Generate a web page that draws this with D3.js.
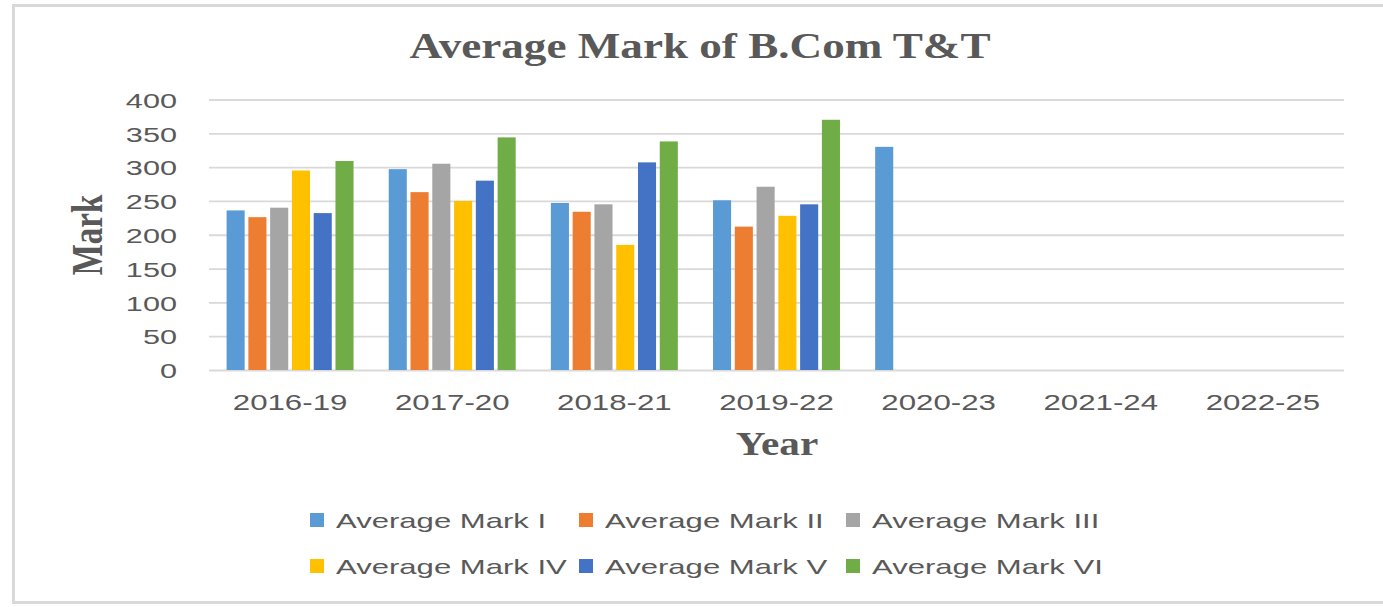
<!DOCTYPE html>
<html>
<head>
<meta charset="utf-8">
<script src="https://cdn.jsdelivr.net/npm/d3@7"></script>
<style>
  html, body { margin: 0; padding: 0; background: #ffffff; }
  svg { display: block; }
</style>
</head>
<body>
<div id="chart"></div>
<script>
// ---- Data ----
const categories = ["2016-19", "2017-20", "2018-21", "2019-22", "2020-23", "2021-24", "2022-25"];
const seriesNames = ["Average Mark I", "Average Mark II", "Average Mark III", "Average Mark IV", "Average Mark V", "Average Mark VI"];
const markI   = [236, 297, 247, 251, 330, null, null];
const markII  = [226, 263, 234, 212, null, null, null];
const markIII = [240, 305, 245, 271, null, null, null];
const markIV  = [295, 250, 185, 228, null, null, null];
const markV   = [232, 280, 307, 245, null, null, null];
const markVI  = [309, 344, 338, 370, null, null, null];
const yTicks = [0, 50, 100, 150, 200, 250, 300, 350, 400];
const titleText = "Average Mark of B.Com T&T";
const xTitle = "Year";
const yTitle = "Mark";

const seriesValues = [markI, markII, markIII, markIV, markV, markVI];
const colors = ["#5B9BD5", "#ED7D31", "#A5A5A5", "#FFC000", "#4472C4", "#70AD47"];

// ---- Layout ----
const W = 1383, H = 607;
const plot = { left: 209, right: 1344, top: 99.5, bottom: 370 };
const textColor = "#595959";
const sansFont = "'Liberation Sans', Arial, sans-serif";
const serifFont = "'Liberation Serif', 'Times New Roman', serif";

const svg = d3.select("#chart").append("svg")
  .attr("width", W).attr("height", H);

// Chart border
svg.append("rect")
  .attr("x", 13.5).attr("y", 5.5)
  .attr("width", W + 20).attr("height", 597)
  .attr("fill", "#ffffff")
  .attr("stroke", "#d9d9d9").attr("stroke-width", 3);

// Scales
const x0 = d3.scaleBand()
  .domain(categories)
  .range([plot.left, plot.right])
  .paddingInner(0.217).paddingOuter(0.1085);

const x1 = d3.scaleBand()
  .domain(d3.range(seriesNames.length))
  .range([0, x0.bandwidth()])
  .paddingInner(0.17).paddingOuter(0);

const y = d3.scaleLinear()
  .domain([0, 400])
  .range([plot.bottom, plot.top]);

// Gridlines
const yAxisGrid = d3.axisLeft(y)
  .tickValues(yTicks)
  .tickSize(-(plot.right - plot.left))
  .tickFormat("");
const grid = svg.append("g")
  .attr("transform", `translate(${plot.left},0)`)
  .call(yAxisGrid);
grid.select(".domain").remove();
grid.selectAll(".tick line")
  .attr("stroke", "#d9d9d9").attr("stroke-width", 1.8);

// Y tick labels
const yAxis = d3.axisLeft(y).tickValues(yTicks).tickSize(0).tickPadding(0);
const yg = svg.append("g")
  .attr("transform", `translate(177,0)`)
  .call(yAxis);
yg.select(".domain").remove();
yg.selectAll(".tick text")
  .attr("x", 0).attr("dy", null)
  .attr("y", 0)
  .attr("transform", "translate(0,7.8) scale(1.46,1)")
  .attr("font-family", sansFont)
  .attr("font-size", 21)
  .attr("fill", textColor)
  .attr("text-anchor", "end");

// X tick labels
const xAxis = d3.axisBottom(x0).tickSize(0).tickPadding(0);
const xg = svg.append("g")
  .attr("transform", `translate(0,${plot.bottom})`)
  .call(xAxis);
xg.select(".domain").remove();
xg.selectAll(".tick text")
  .attr("y", 0).attr("dy", null)
  .attr("transform", "translate(0,40) scale(1.42,1)")
  .attr("font-family", sansFont)
  .attr("font-size", 22)
  .attr("fill", textColor)
  .attr("text-anchor", "middle");

// Bars
const rows = categories.map((c, i) => ({
  cat: c,
  vals: seriesValues.map((s, k) => ({ k, v: s[i] }))
}));

const groups = svg.append("g").selectAll("g")
  .data(rows)
  .join("g")
  .attr("transform", d => `translate(${x0(d.cat)},0)`);

groups.selectAll("rect")
  .data(d => d.vals.filter(e => e.v !== null))
  .join("rect")
  .attr("x", d => x1(d.k))
  .attr("width", x1.bandwidth())
  .attr("y", d => y(d.v))
  .attr("height", d => y(0) - y(d.v))
  .attr("fill", d => colors[d.k]);

// Title
svg.append("text")
  .attr("transform", "translate(700,58) scale(1.29,1)")
  .attr("text-anchor", "middle")
  .attr("font-family", serifFont)
  .attr("font-weight", "bold")
  .attr("font-size", 35)
  .attr("fill", textColor)
  .text(titleText);

// X axis title
svg.append("text")
  .attr("transform", "translate(777,455) scale(1.25,1)")
  .attr("text-anchor", "middle")
  .attr("font-family", serifFont)
  .attr("font-weight", "bold")
  .attr("font-size", 33)
  .attr("fill", textColor)
  .text(xTitle);

// Y axis title
svg.append("text")
  .attr("transform", "translate(102,235) rotate(-90) scale(1,1.32)")
  .attr("text-anchor", "middle")
  .attr("font-family", serifFont)
  .attr("font-weight", "bold")
  .attr("font-size", 33)
  .attr("fill", textColor)
  .text(yTitle);

// Legend
const legendCols = [310, 579, 846];
const legendRows = [528, 574];
const legend = svg.append("g");
seriesNames.forEach((name, i) => {
  const cx = legendCols[i % 3];
  const by = legendRows[Math.floor(i / 3)];
  const g = legend.append("g").attr("transform", `translate(${cx},${by})`);
  g.append("rect")
    .attr("x", 0).attr("y", -15)
    .attr("width", 14).attr("height", 14)
    .attr("fill", colors[i]);
  g.append("text")
    .attr("transform", "translate(26,0) scale(1.48,1)")
    .attr("font-family", sansFont)
    .attr("font-size", 21)
    .attr("fill", textColor)
    .text(name);
});
</script>
</body>
</html>
